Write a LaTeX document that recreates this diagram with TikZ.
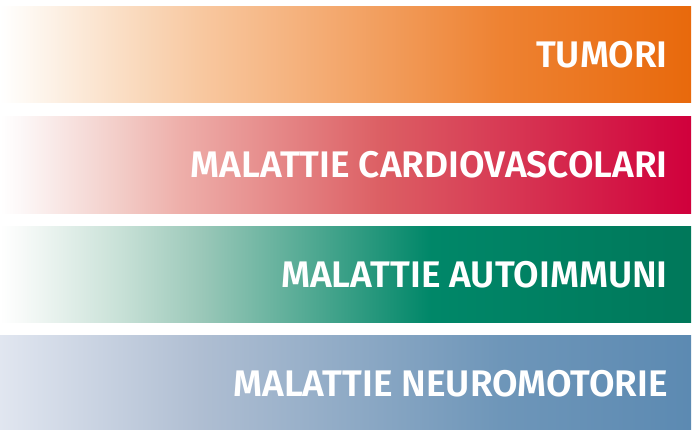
\documentclass[tikz,border=0pt]{standalone}
\usepackage{fontspec}
\newfontfamily\lab{Fira Sans SemiBold}
\pgfdeclarehorizontalshading{sorange}{100bp}{
  rgb(0bp)=(1,1,1); rgb(25bp)=(1,1,1);
  rgb(26.5bp)=(0.996,0.98,0.96);
  rgb(33.7bp)=(0.98,0.87,0.77);
  rgb(39.5bp)=(0.973,0.784,0.627);
  rgb(61.2bp)=(0.933,0.51,0.196);
  rgb(75bp)=(0.91,0.412,0.047); rgb(100bp)=(0.91,0.412,0.047)}
\pgfdeclarehorizontalshading{sred}{100bp}{
  rgb(0bp)=(1,1,1); rgb(25bp)=(1,1,1);
  rgb(26.5bp)=(0.99,0.97,0.97);
  rgb(33.7bp)=(0.95,0.80,0.78);
  rgb(38bp)=(0.933,0.686,0.667);
  rgb(52.5bp)=(0.863,0.373,0.392);
  rgb(75bp)=(0.816,0,0.235); rgb(100bp)=(0.816,0,0.235)}
\pgfdeclarehorizontalshading{sgreen}{100bp}{
  rgb(0bp)=(1,1,1); rgb(25bp)=(1,1,1);
  rgb(26.5bp)=(0.97,0.98,0.975);
  rgb(33.7bp)=(0.784,0.882,0.843);
  rgb(39.5bp)=(0.608,0.784,0.725);
  rgb(56.1bp)=(0,0.53,0.41);
  rgb(75bp)=(0,0.47,0.353); rgb(100bp)=(0,0.47,0.353)}
\pgfdeclarehorizontalshading{sblue}{100bp}{
  rgb(0bp)=(0.882,0.902,0.941); rgb(25bp)=(0.882,0.902,0.941);
  rgb(33.7bp)=(0.765,0.808,0.871);
  rgb(39.5bp)=(0.686,0.745,0.824);
  rgb(61.2bp)=(0.431,0.588,0.725);
  rgb(75bp)=(0.361,0.541,0.698); rgb(100bp)=(0.361,0.541,0.698)}
\tikzset{
  band/.style={draw=none},
  lbl/.style={anchor=base east, text=white, inner sep=0pt, font=\lab\fontsize{37}{40}\selectfont}
}
\begin{document}
\begin{tikzpicture}[x=1pt,y=-1pt]
\useasboundingbox (0,0) rectangle (699,430);
\fill[white] (0,0) rectangle (699,430);
\shade[band, shading=sorange] (0,7) rectangle (691,103);
\shade[band, shading=sred] (0,117) rectangle (691,214);
\shade[band, shading=sgreen] (0,227) rectangle (691,323);
\shade[band, shading=sblue] (0,336) rectangle (691,430);
\node[lbl] (t1) at (668,67.5) {TUMORI};
\node[lbl] (t2) at (668,177.5) {MALATTIE CARDIOVASCOLARI};
\node[lbl] (t3) at (668,287.5) {MALATTIE AUTOIMMUNI};
\node[lbl] (t4) at (668,396.5) {MALATTIE NEUROMOTORIE};
\end{tikzpicture}
\end{document}
